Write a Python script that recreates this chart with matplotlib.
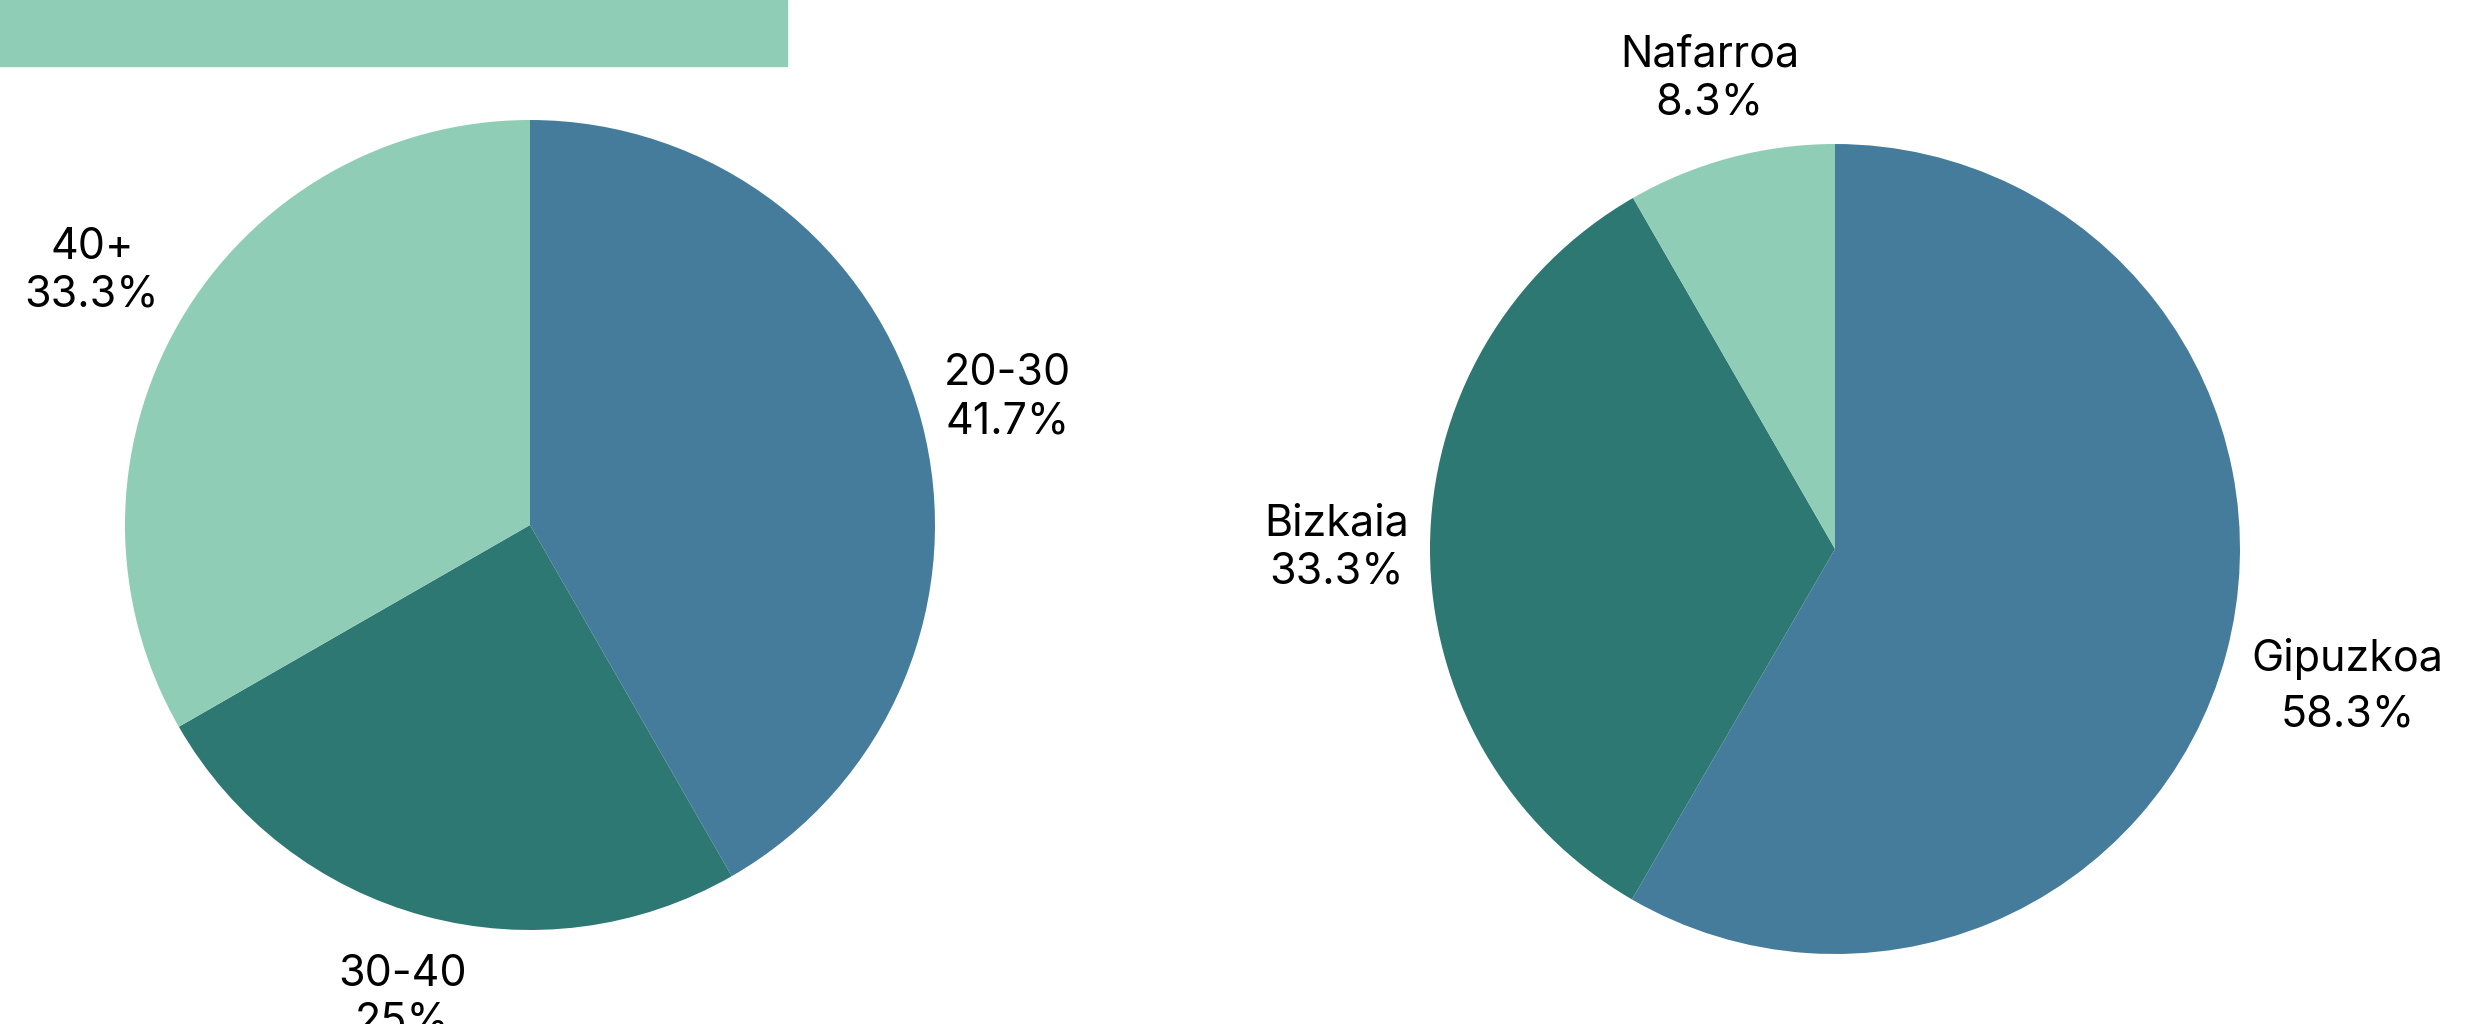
import numpy as np
from matplotlib import pyplot as plt
from matplotlib.patches import Rectangle

plt.rcParams['font.family'] = ['Inter', 'DejaVu Sans']

# age groups (left pie)
age_labels = ['20-30', '30-40', '40+']
age_values = [41.7, 25, 33.3]
age_text = ['41.7%', '25%', '33.3%']

# provinces (right pie)
prov_labels = ['Gipuzkoa', 'Bizkaia', 'Nafarroa']
prov_values = [58.3, 33.3, 8.3]
prov_text = ['58.3%', '33.3%', '8.3%']

colors = ['#457c9c', '#2d7872', '#90cdb6']

W, H = 2482, 1024
fig = plt.figure(figsize=(W / 100, H / 100), dpi=100)
ax = fig.add_axes([0, 0, 1, 1])


def draw_pie(values, labels, texts, cx, cy, r, dists, spacings):
    ax.pie(values, colors=colors, startangle=90, counterclock=False,
           center=(cx, cy), radius=r, wedgeprops=dict(linewidth=0))
    total = sum(values)
    start = 90.0
    for v, lab, t, d, ls in zip(values, labels, texts, dists, spacings):
        span = v / total * 360
        mid = np.deg2rad(start - span / 2)
        start -= span
        ax.text(cx + d * r * np.cos(mid), cy + d * r * np.sin(mid),
                lab + '\n' + t, ha='center', va='center', fontsize=31,
                linespacing=ls, color='black', clip_on=False)


draw_pie(age_values, age_labels, age_text, 530, H - 525, 405,
         [1.22, 1.21, 1.25], [1.22, 1.22, 1.22])
draw_pie(prov_values, prov_labels, prov_text, 1835, H - 549, 405,
         [1.31, 1.23, 1.2], [1.45, 1.22, 1.22])

ax.set_xlim(0, W)
ax.set_ylim(0, H)
ax.set_aspect('auto')
ax.axis('off')

fig.patches.append(Rectangle((0, 1 - 66 / H), 787 / W, 66 / H,
                             transform=fig.transFigure, color='#90cdb6',
                             zorder=0))

fig.savefig('out.png', dpi=100)
